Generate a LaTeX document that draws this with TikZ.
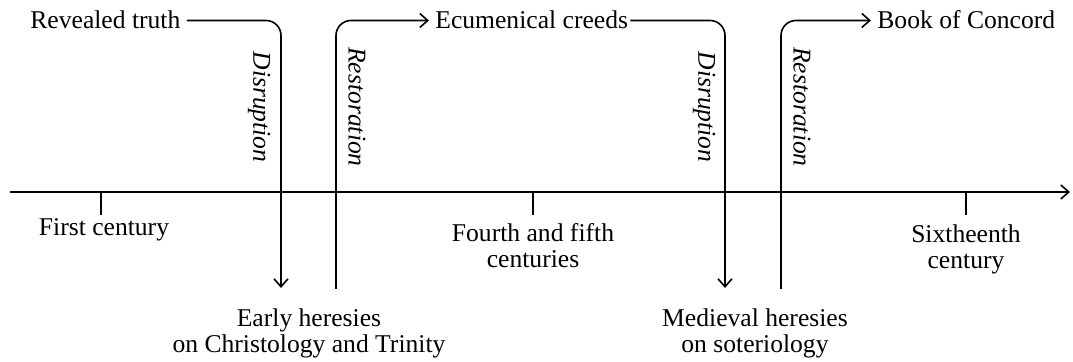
\documentclass[tikz,border=0pt]{standalone}
\usepackage{fontspec}
\setmainfont{Liberation Serif}
\usetikzlibrary{arrows.meta}
\newcommand\labelsize{\fontsize{12.8}{13}\selectfont}
\tikzset{
  era/.style={align=center, inner sep=0pt},
  phase/.style={rotate=-90, font=\labelsize\itshape, inner sep=0pt},
  flow/.style={line width=0.8pt, rounded corners=7.5pt},
  tip/.style={-{Straight Barb[length=4pt,width=7pt]}}
}
\begin{document}
\begin{tikzpicture}[x=0.5pt, y=-0.5pt, font=\labelsize]
  \useasboundingbox (0,0) rectangle (1073,362);
  % timeline
  \coordinate (axisL) at (10,192);
  \coordinate (axisR) at (1070,192);
  \draw[line width=0.8pt, tip] (axisL) -- (axisR);
  \foreach \name/\x in {first/101, fourth/533, sixteenth/966}
    \draw[line width=0.8pt] (\x,192) -- (\x,215) coordinate (\name);
  % base = last line
  \node[era, anchor=base] (c1)  at (104,236) {First century};
  \node[era, anchor=base] (c4)  at (533,268) {Fourth and fifth\\centuries};
  \node[era, anchor=base] (c16) at (966,269) {Sixtheenth\\century};

  % top row
  \node[era, anchor=base west] (truth)   at (30,29)  {Revealed truth};
  \node[era, anchor=base west] (creeds)  at (435,29) {Ecumenical creeds};
  \node[era, anchor=base west] (concord) at (877,29) {Book of Concord};

  % heresies
  \node[era, anchor=base] (early)    at (309,353) {Early heresies\\on Christology and Trinity};
  \node[era, anchor=base] (medieval) at (755,353) {Medieval heresies\\on soteriology};

  \coordinate (down1) at (281,288);
  \coordinate (up1)   at (336,289);
  \coordinate (down2) at (725,288);
  \coordinate (up2)   at (781,289);

  \draw[flow, tip] ([xshift=3pt]truth.east |- 0,20.5) -| (down1);
  \draw[flow, tip] (up1) |- ([xshift=-3pt]creeds.west |- 0,20.5);
  \draw[flow, tip] ([xshift=1pt]creeds.east |- 0,20.5) -| (down2);
  \draw[flow, tip] (up2) |- ([xshift=-3pt]concord.west |- 0,20.5);

  \node[phase] (dis1) at (259,107) {Disruption};
  \node[phase] (res1) at (357,107) {Restoration};
  \node[phase] (dis2) at (704,107) {Disruption};
  \node[phase] (res2) at (802,107) {Restoration};
\end{tikzpicture}
\end{document}
